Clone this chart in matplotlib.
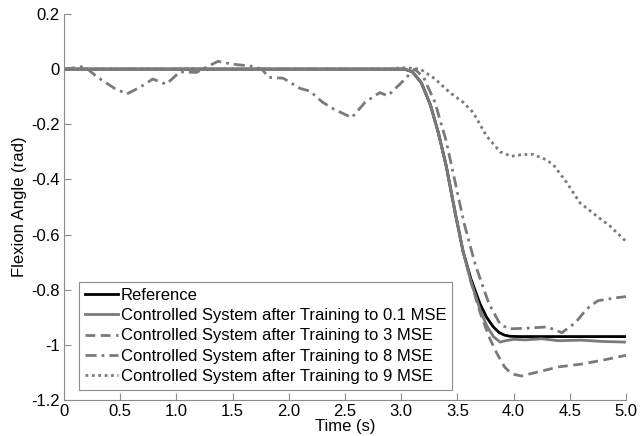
import matplotlib
matplotlib.use('Agg')
import matplotlib.pyplot as plt

plt.rcParams['font.family'] = ['Liberation Sans', 'DejaVu Sans']
plt.rcParams['axes.unicode_minus'] = False

# values
t_ref = [0, 3.03, 3.1, 3.18, 3.26, 3.33, 3.4, 3.48, 3.55, 3.62, 3.7, 3.76, 3.82, 3.87, 3.92, 3.97, 4.05, 5.0]
y_ref = [0, 0, -0.01, -0.05, -0.13, -0.23, -0.35, -0.52, -0.66, -0.76, -0.85, -0.9, -0.935, -0.955, -0.965, -0.969, -0.97, -0.97]

t_01 = [0, 3.03, 3.1, 3.18, 3.26, 3.33, 3.4, 3.48, 3.55, 3.62, 3.7, 3.76, 3.82, 3.88, 3.93, 4.0, 4.1, 4.25, 4.4, 4.6, 4.8, 5.0]
y_01 = [0, 0, -0.01, -0.05, -0.13, -0.23, -0.35, -0.52, -0.66, -0.77, -0.87, -0.93, -0.97, -0.99, -0.985, -0.98, -0.982, -0.978, -0.985, -0.983, -0.988, -0.99]

t_3 = [0, 3.03, 3.1, 3.18, 3.26, 3.33, 3.4, 3.48, 3.55, 3.62, 3.7, 3.78, 3.85, 3.92, 3.98, 4.07, 4.2, 4.4, 4.6, 4.8, 5.0]
y_3 = [0, 0, -0.01, -0.05, -0.13, -0.23, -0.35, -0.52, -0.66, -0.77, -0.88, -0.97, -1.03, -1.08, -1.105, -1.113, -1.1, -1.08, -1.07, -1.055, -1.038]

t_8 = [0, 0.1, 0.18, 0.3, 0.45, 0.56, 0.68, 0.79, 0.91, 1.03, 1.18, 1.28, 1.37, 1.5, 1.68, 1.76, 1.82, 1.95,
       2.1, 2.19, 2.3, 2.4, 2.56, 2.68, 2.81, 2.88, 3.0, 3.12, 3.2, 3.3, 3.4, 3.48, 3.56, 3.66, 3.78, 3.88, 3.96,
       4.1, 4.3, 4.43, 4.55, 4.65, 4.75, 4.9, 5.0]
y_8 = [0, 0.005, 0.01, -0.03, -0.07, -0.09, -0.065, -0.036, -0.055, -0.01, -0.012, 0.01, 0.028, 0.018, 0.01, 0, -0.03, -0.033,
       -0.07, -0.08, -0.12, -0.145, -0.176, -0.12, -0.085, -0.097, -0.05, 0, -0.03, -0.12, -0.26, -0.41, -0.56, -0.71, -0.85, -0.925, -0.942,
       -0.94, -0.935, -0.956, -0.92, -0.87, -0.84, -0.83, -0.825]

t_9 = [0, 2.9, 3.0, 3.1, 3.17, 3.3, 3.43, 3.55, 3.64, 3.76, 3.88, 3.98, 4.08, 4.17, 4.27, 4.35, 4.47, 4.59, 4.74, 4.86, 5.0]
y_9 = [0, 0, 0.005, 0.003, 0, -0.035, -0.084, -0.12, -0.157, -0.243, -0.3, -0.316, -0.31, -0.309, -0.325, -0.345, -0.41, -0.485, -0.533, -0.57, -0.625]

x_ticks = [0, 0.5, 1.0, 1.5, 2.0, 2.5, 3.0, 3.5, 4.0, 4.5, 5.0]
x_labels = ['0', '0.5', '1.0', '1.5', '2.0', '2.5', '3.0', '3.5', '4.0', '4.5', '5.0']
y_ticks = [0.2, 0, -0.2, -0.4, -0.6, -0.8, -1, -1.2]
y_labels = ['0.2', '0', '-0.2', '-0.4', '-0.6', '-0.8', '-1', '-1.2']

gray = '#7a7a7a'
axis_gray = '#8c8c8c'
fs = 12

fig = plt.figure(figsize=(6.44, 4.36), dpi=100)
ax = fig.add_axes([0.0994, 0.0826, 0.8726, 0.8854])

ax.plot(t_ref, y_ref, color='black', lw=2.0, label='Reference', zorder=1)
ax.plot(t_01, y_01, color=gray, lw=2.0, label='Controlled System after Training to 0.1 MSE', zorder=2)
ax.plot(t_3, y_3, color=gray, lw=2.0, ls=(0, (3.5, 2)), label='Controlled System after Training to 3 MSE')
ax.plot(t_8, y_8, color=gray, lw=2.0, ls=(0, (4, 1.8, 1, 1.8)), label='Controlled System after Training to 8 MSE')
ax.plot(t_9, y_9, color=gray, lw=2.0, ls=(0, (1, 1.3)), label='Controlled System after Training to 9 MSE')

ax.set_xlim(0, 5)
ax.set_ylim(-1.2, 0.2)
ax.set_xticks(x_ticks)
ax.set_xticklabels(x_labels)
ax.set_yticks(y_ticks)
ax.set_yticklabels(y_labels)
ax.tick_params(direction='in', length=5, width=0.8, color=axis_gray, labelsize=fs, pad=3)

for side in ['top', 'right']:
    ax.spines[side].set_visible(False)
for side in ['left', 'bottom']:
    ax.spines[side].set_color(axis_gray)
    ax.spines[side].set_linewidth(0.8)

ax.set_xlabel('Time (s)', fontsize=fs, labelpad=0)
ax.set_ylabel('Flexion Angle (rad)', fontsize=fs, labelpad=3)

leg = ax.legend(loc='lower left', bbox_to_anchor=(0.027, 0.026), borderaxespad=0, fontsize=fs,
                handlelength=2.0, handletextpad=0.15, labelspacing=0.32, borderpad=0.35,
                fancybox=False, framealpha=1)
leg.get_frame().set_edgecolor(axis_gray)
leg.get_frame().set_linewidth(0.8)

fig.savefig('out.png', dpi=100)
